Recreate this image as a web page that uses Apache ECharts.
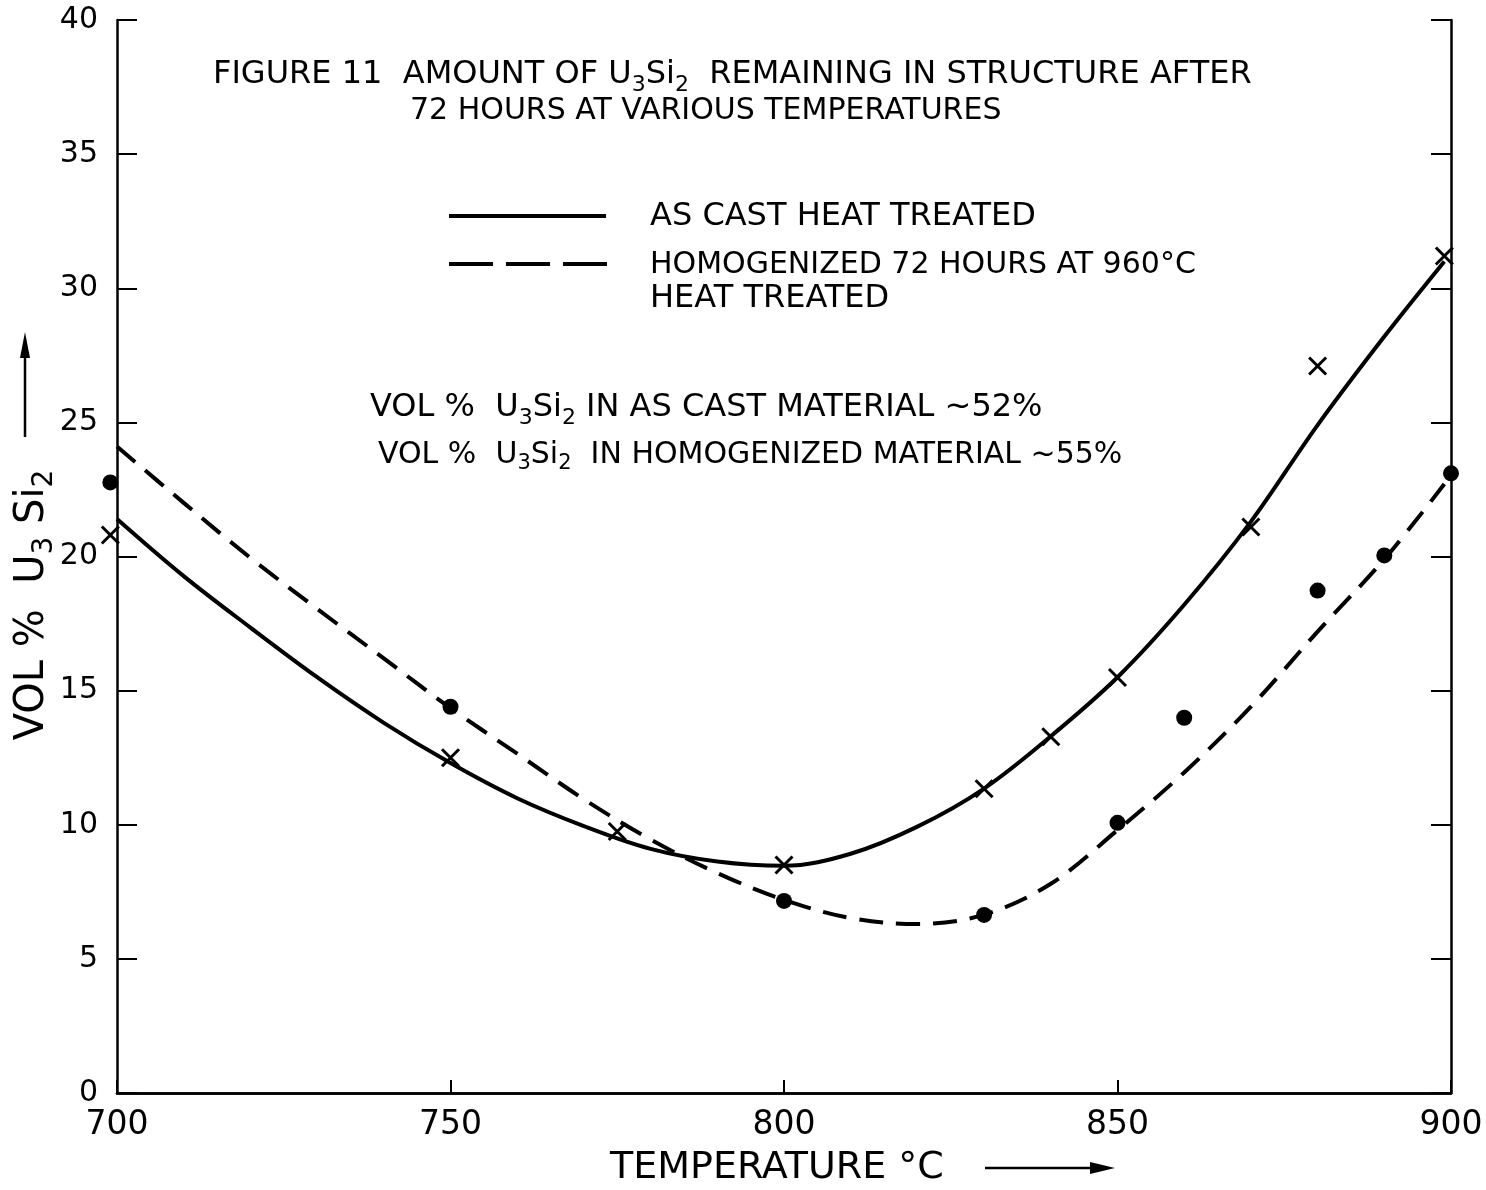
<!DOCTYPE html>
<html><head><meta charset="utf-8">
<script src="https://cdn.jsdelivr.net/npm/echarts@6/dist/echarts.min.js"></script>
<style>html,body{margin:0;padding:0;background:#fff}#c{width:1486px;height:1190px}</style>
</head><body><div id="c"></div>
<script>
// ---- data ----
const asCastCurveT = [700,710,720,730,740,750,760,770,780,790,800,810,820,830,840,850,860,870,880,890,899];
const asCastCurveV = [21.4,19.27,17.35,15.5,13.8,12.3,10.99,9.95,9.1,8.63,8.47,8.92,9.93,11.35,13.3,15.5,18.2,21.3,24.9,28.2,31.0];
const homogCurveT = [700,710,720,730,740,750,760,770,780,790,800,810,820,830,840,850,860,870,880,890,899];
const homogCurveV = [24.1,22.0,19.95,18.05,16.2,14.35,12.65,10.95,9.45,8.2,7.2,6.52,6.3,6.65,7.8,9.8,11.95,14.4,17.2,19.9,22.7];
const asCastPtsT = [699,750,775,800,830,840,850,870,880,899];
const asCastPtsV = [20.8,12.5,9.75,8.5,11.34,13.28,15.49,21.1,27.1,31.2];
const homogPtsT = [699,750,800,830,850,860,880,890,900];
const homogPtsV = [22.76,14.4,7.16,6.64,10.07,13.99,18.73,20.04,23.1];

const FONT = 'DejaVu Sans';
const zip = (a, b) => a.map((v, i) => [v, b[i]]);
const X_PATH = 'path://M0,0L10,10M10,0L0,10';

function txt(x, y, text, size, extra) {
  return Object.assign({
    type: 'text', x: x, y: y, silent: true,
    style: {
      text: text, fontFamily: FONT, fontSize: size, fill: '#000',
      lineHeight: Math.round(size * 1.3), align: 'left', verticalAlign: 'middle',
      rich: { s: { fontFamily: FONT, fontSize: Math.round(size * 0.7), lineHeight: Math.round(size * 0.7), verticalAlign: 'bottom', fill: '#000' } }
    }
  }, extra || {});
}

const chart = echarts.init(document.getElementById('c'), null, {renderer: 'canvas'});
const option = {
  backgroundColor: '#fff',
  animation: false,
  grid: { left: 117, right: 35, top: 20, bottom: 97 },
  xAxis: [{
    type: 'value', min: 700, max: 900, interval: 50,
    axisLine: { show: true, lineStyle: { color: '#000', width: 2.5 } },
    axisTick: { show: true, inside: true, length: 13, lineStyle: { color: '#000', width: 2 } },
    axisLabel: { color: '#000', fontFamily: FONT, fontSize: 33, margin: 16 },
    splitLine: { show: false }
  }, {
    type: 'value', min: 700, max: 900, interval: 50, position: 'top',
    axisLine: { show: true, lineStyle: { color: '#000', width: 2.5 } },
    axisTick: { show: false }, axisLabel: { show: false }, splitLine: { show: false }
  }],
  yAxis: [{
    type: 'value', min: 0, max: 40, interval: 5,
    axisLine: { show: true, lineStyle: { color: '#000', width: 2.5 } },
    axisTick: { show: true, inside: true, length: 20, lineStyle: { color: '#000', width: 2 } },
    axisLabel: { color: '#000', fontFamily: FONT, fontSize: 30, margin: 19 },
    splitLine: { show: false }
  }, {
    type: 'value', min: 0, max: 40, interval: 5, position: 'right',
    axisLine: { show: true, lineStyle: { color: '#000', width: 2.5 } },
    axisTick: { show: true, inside: true, length: 20, lineStyle: { color: '#000', width: 2 } },
    axisLabel: { show: false }, splitLine: { show: false }
  }],
  series: [{
    name: 'AS CAST HEAT TREATED', type: 'line', data: zip(asCastCurveT, asCastCurveV),
    smooth: 0.35, showSymbol: false, symbol: 'none',
    lineStyle: { color: '#000', width: 4 }, z: 3
  }, {
    name: 'HOMOGENIZED 72 HOURS AT 960°C HEAT TREATED', type: 'line', data: zip(homogCurveT, homogCurveV),
    smooth: 0.35, showSymbol: false, symbol: 'none',
    lineStyle: { color: '#000', width: 4, type: [24, 13] }, z: 3
  }, {
    name: 'AS CAST points', type: 'scatter', data: zip(asCastPtsT, asCastPtsV), clip: false,
    symbol: X_PATH, symbolSize: 17,
    itemStyle: { color: 'rgba(0,0,0,0)', borderColor: '#000', borderWidth: 3, opacity: 1 }, z: 4
  }, {
    name: 'HOMOGENIZED points', type: 'scatter', data: zip(homogPtsT, homogPtsV), clip: false,
    symbol: 'circle', symbolSize: 16, itemStyle: { color: '#000', opacity: 1 }, z: 4
  }],
  graphic: [
    txt(213, 75, 'FIGURE 11  AMOUNT OF U{s|3}Si{s|2}  REMAINING IN STRUCTURE AFTER', 32),
    txt(410, 111, '72 HOURS AT VARIOUS TEMPERATURES', 30),
    { type: 'line', silent: true, shape: { x1: 449, y1: 216, x2: 606, y2: 216 }, style: { stroke: '#000', lineWidth: 4 } },
    { type: 'line', silent: true, shape: { x1: 449, y1: 264, x2: 607, y2: 264 }, style: { stroke: '#000', lineWidth: 4, lineDash: [44, 13] } },
    txt(650, 217, 'AS CAST HEAT TREATED', 32),
    txt(650, 265, 'HOMOGENIZED 72 HOURS AT 960°C', 30),
    txt(650, 299, 'HEAT TREATED', 32),
    txt(370, 408, 'VOL %  U{s|3}Si{s|2} IN AS CAST MATERIAL ~52%', 32),
    txt(378, 455, 'VOL %  U{s|3}Si{s|2}  IN HOMOGENIZED MATERIAL ~55%', 30),
    txt(610, 1168, 'TEMPERATURE °C', 38),
    { type: 'line', silent: true, shape: { x1: 985, y1: 1168, x2: 1095, y2: 1168 }, style: { stroke: '#000', lineWidth: 2.5 } },
    { type: 'polygon', silent: true, shape: { points: [[1115, 1168], [1090, 1162], [1090, 1174]] }, style: { fill: '#000' } },
    txt(33, 605, 'VOL %  U{s|3} Si{s|2}', 40, { rotation: Math.PI / 2 }),
    { type: 'line', silent: true, shape: { x1: 25, y1: 355, x2: 25, y2: 437 }, style: { stroke: '#000', lineWidth: 2.5 } },
    { type: 'polygon', silent: true, shape: { points: [[25, 332], [20, 358], [30, 358]] }, style: { fill: '#000' } }
  ]
};
option.graphic[12].style.align = 'center';
chart.setOption(option);
</script>
</body></html>
